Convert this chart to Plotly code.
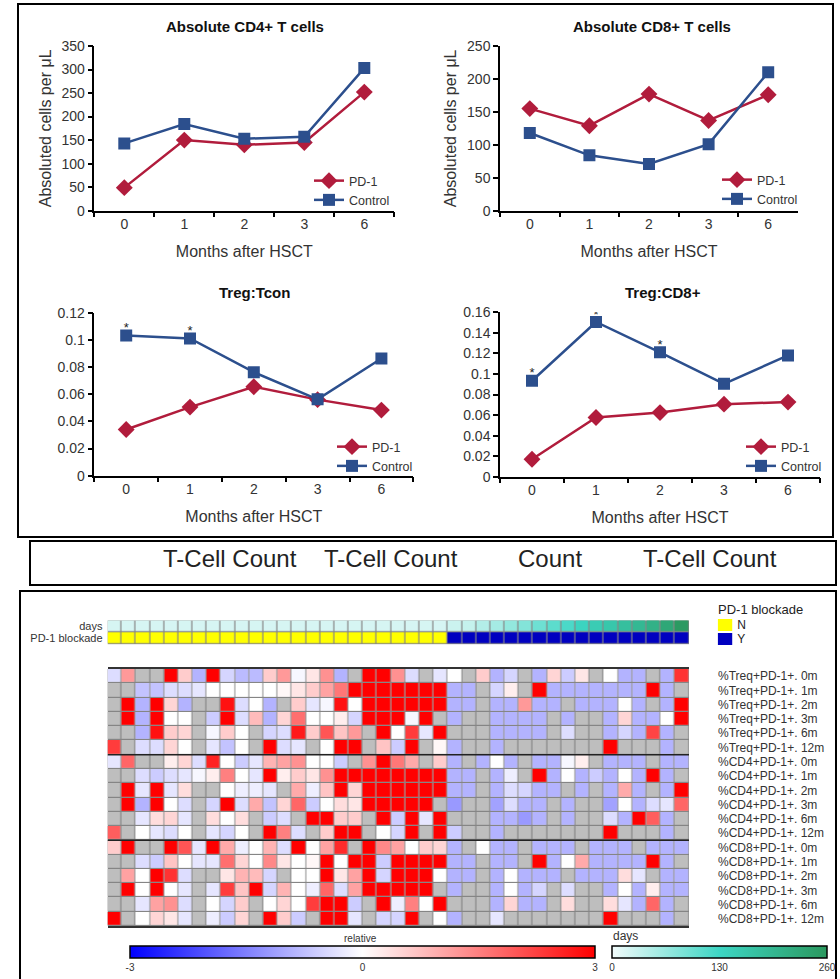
import plotly.graph_objects as go

W, H = 840, 979
def fx(x): return x / W
def fy(y): return 1 - y / H

FONT = 'Liberation Sans, Arial, sans-serif'
NARROW = 'Liberation Sans Narrow, Arial Narrow, Liberation Sans, sans-serif'

# ---------------- line-chart data ----------------
months = ['0', '1', '2', '3', '6']
cd4_pd1 = [49, 150, 140, 145, 252]
cd4_ctrl = [143, 184, 153, 157, 303]
cd8_pd1 = [155, 129, 177, 137, 176]
cd8_ctrl = [118, 84, 71, 101, 210]
tregtcon_pd1 = [0.034, 0.0505, 0.0655, 0.056, 0.0483]
tregtcon_ctrl = [0.1032, 0.101, 0.0762, 0.0562, 0.0863]
tregcd8_pd1 = [0.017, 0.0576, 0.0624, 0.0706, 0.0726]
tregcd8_ctrl = [0.0934, 0.1506, 0.121, 0.0904, 0.118]
tregtcon_sig = [True, True, False, False, False]
tregcd8_sig = [True, True, True, False, False]

# ---------------- heatmap data ----------------
row_labels = ['%Treq+PD-1+. 0m', '%Treq+PD-1+. 1m', '%Treq+PD-1+. 2m', '%Treq+PD-1+. 3m',
              '%Treq+PD-1+. 6m', '%Treq+PD-1+. 12m',
              '%CD4+PD-1+. 0m', '%CD4+PD-1+. 1m', '%CD4+PD-1+. 2m', '%CD4+PD-1+. 3m',
              '%CD4+PD-1+. 6m', '%CD4+PD-1+. 12m',
              '%CD8+PD-1+. 0m', '%CD8+PD-1+. 1m', '%CD8+PD-1+. 2m', '%CD8+PD-1+. 3m',
              '%CD8+PD-1+. 6m', '%CD8+PD-1+. 12m']
N = None
relative = [
    [-0.4, 1.2, N, N, 3, 0.6, -0.9, 3, -0.5, -0.8, -0.8, 0.6, 1.2, -0.1, 0.3, 1.3, -0.9, N, 3, 3, 1.3, -0.4, N, -0.3,
     0, N, 0.6, -0.9, -0.5, N, -0.9, 0.5, -0.6, 0.3, N, 0, -0.9, -0.9, N, -0.9, 2.4],
    [N, N, -0.7, -0.7, -0.4, -0.4, -0.3, 0, 0, 0, 0, 0, 0.1, 0.3, 0.6, 1.1, 1.6, 3, 3, 3, 3, 3, 3, 3,
     -0.9, -0.9, N, -0.5, 0.2, N, 3, -0.9, -0.9, -0.9, -0.9, -0.9, -0.9, -0.9, 3, -0.9, N],
    [N, 3, -0.9, 3, 0.5, -0.9, N, N, 2.8, -0.4, 0, -0.9, N, 0.6, -0.3, -0.1, 2.8, 0, 3, 3, 3, 3, 3, 3,
     -0.9, -0.9, N, -0.9, -0.9, 1.2, -0.9, -0.9, N, -0.9, -0.9, -0.9, 0, -0.9, N, -0.9, 3],
    [N, 3, -0.9, 3, 0, 0, N, -0.6, 3, -0.4, 0.8, -0.9, 0.5, 1.7, 0, 0, 0.2, -0.5, 3, 3, 3, -0.1, 3, N,
     -0.9, N, N, -0.9, -0.9, -0.9, -0.9, N, -0.9, N, N, -0.9, 0.5, -0.9, -0.9, 0, 3],
    [N, N, -0.9, 2.8, 0.6, 0.5, N, -0.1, 0.6, 0, N, -0.5, -0.4, 2.7, 0.6, 2.0, 0.7, 1.2, N, 3, 0, 2.3, -0.3, 3,
     N, N, N, -0.9, -0.9, -0.9, -0.9, N, -0.4, N, N, -0.9, -0.5, -0.9, 2.2, -0.9, N],
    [2.3, N, -0.4, -0.4, 0.5, 0, N, -0.3, -0.7, 0, N, 3, -0.4, -0.3, N, 0, 3, 3, N, 0.7, -0.6, 3, N, 0.1,
     -0.9, N, N, -0.9, N, N, N, N, N, N, N, 3, N, N, N, -0.9, N],
    [-0.3, 1.8, N, N, 0.2, 0.5, -0.4, 2.6, 0, -0.6, -0.3, 0.9, 1.1, 1.3, 0, 0, -0.6, N, 1.3, 3, 1.6, 1.0, N, 0.6,
     -0.9, N, -0.9, 0, -0.9, N, -0.9, -0.9, -0.1, 0.2, N, -0.9, -0.9, -0.9, N, -0.9, -0.9],
    [N, N, -0.4, -0.6, -0.4, -0.3, -0.1, 0.2, 1.5, 0, -0.3, 3, 0.2, 0.6, 0.3, 1.3, 3, 3, 3, 3, 3, 3, 3, 3,
     -0.9, -0.9, N, -0.9, -0.2, N, 3, -0.9, 0, -0.9, -0.6, -0.9, 0, -0.9, 3, -0.9, N],
    [N, 3, -0.3, 3, -0.3, 0.4, N, N, 0, -0.2, -0.2, -0.3, N, 1.0, -0.2, 0.7, 3, 0.5, 3, 3, 3, 3, 3, 3,
     -0.9, -0.9, N, -0.9, -0.4, -0.5, -0.9, -0.9, N, -0.9, N, -0.9, 1.0, -0.9, N, -0.9, 3],
    [N, 3, -0.9, 3, 0, -0.4, N, -0.5, 3, -0.4, 1.0, -0.7, 0.5, 1.8, -0.6, 0, 0.4, 0.3, 3, 3, 3, 3, 3, N,
     -1.2, N, N, -1.1, -0.4, -0.9, -0.9, N, -0.9, N, N, -1.1, 0, -0.9, -0.4, -0.3, 1.8],
    [N, N, -0.3, 0.4, 0.5, -0.3, N, 0.4, 0, 0.4, N, -0.6, -0.4, N, 3, 3, 0.6, 0.6, N, 3, -0.6, 3, -0.3, 3,
     N, N, N, -0.9, -0.9, -1.2, -0.9, N, -0.9, N, N, -0.4, -0.9, 3, 1.9, -0.9, N],
    [1.9, N, 0, -0.3, -0.4, 0, N, -0.3, -0.5, 0, N, 3, 1.5, -0.4, N, 0.6, 3, 3, N, 0, -0.5, 3, N, 3,
     -0.6, N, N, -0.9, N, N, N, N, N, N, N, 3, N, N, N, -0.9, N],
    [0.6, 3, N, N, 3, 2.0, -0.3, 3, 1.0, -0.2, 0, 0.9, -0.4, 3, 0, 1.1, 2.5, N, 3, 1.4, 1.1, 0, 0.6, 0.5,
     -0.9, N, 0, -0.9, -0.9, N, -0.9, -0.9, -0.9, N, -0.9, -0.9, -0.9, N, -0.9, -0.9, -0.9],
    [N, N, -0.4, -0.6, 0.7, 0, -0.3, -0.3, 1.7, 0.5, 0, 1.4, 0.3, 0, 0.1, 3, 0, 3, 3, -0.6, 3, 3, 3, 3,
     -0.9, -0.9, N, -0.9, -0.9, N, 3, -0.9, 0, 1.0, -0.9, -0.9, -0.9, -0.9, 3, -0.9, N],
    [N, 1.1, 0, 3, 2.4, -0.4, N, N, 0.3, 0.9, 0.8, -0.5, N, 0, 0, 3, 0.3, 1.1, 3, -0.5, 3, 3, 3, 0,
     -0.9, -0.9, N, -0.9, 0, -0.9, -0.9, -0.9, N, -0.9, -0.9, -0.9, 0.4, -0.3, N, -0.9, -0.9],
    [N, 3, 0, 3, 0, -0.3, N, -0.3, 2.3, 0.7, 3, -0.5, 0.9, 0, -0.2, 1.8, -0.4, 1.1, 3, 3, 3, 3, 3, N,
     -0.9, N, N, -0.9, 0, -0.9, -0.5, N, -0.4, N, N, -0.9, 0, -0.9, 0.2, -0.9, -0.9],
    [N, N, -0.3, 1.1, 1.3, -0.4, N, 0, -0.5, 0.6, N, 0, 0.5, 0, 2.3, 3, 3, -0.6, N, 3, -0.2, 1.5, 0, 3,
     N, N, N, -0.9, 0.5, -0.9, -0.9, N, 0.4, N, N, 0.4, -0.3, -0.9, 1.8, -0.9, N],
    [3, N, 0, 0.5, 0.3, -0.3, N, -0.2, -0.6, 0.5, N, 3, 0.6, -0.6, N, 3, 3, -0.3, N, -0.5, -0.5, 3, N, 0,
     -0.9, N, N, -0.3, N, N, N, N, N, N, N, 3, N, N, N, -0.9, N],
]
days = [20, 20, 20, 20, 20, 20, 20, 20, 20, 20, 20, 20, 20, 20, 20, 20, 20, 20, 20, 20, 20, 20, 20, 20,
        28, 32, 45, 55, 68, 80, 95, 108, 120, 135, 150, 162, 178, 192, 208, 228, 255]
blockade = ['N', 'N', 'N', 'N', 'N', 'N', 'N', 'N', 'N', 'N', 'N', 'N', 'N', 'N', 'N', 'N', 'N', 'N',
            'N', 'N', 'N', 'N', 'N', 'N', 'Y', 'Y', 'Y', 'Y', 'Y', 'Y', 'Y', 'Y', 'Y', 'Y', 'Y', 'Y',
            'Y', 'Y', 'Y', 'Y', 'Y']
blockade_levels = ['N', 'Y']
count_labels = ['T-Cell Count', 'T-Cell Count', 'Count', 'T-Cell Count']

RED = '#b11c3c'
BLUE = '#2c4f8d'
YEL = '#ffff00'
DBLUE = '#0000c0'

panels = [
    dict(title='Absolute CD4+ T cells', pd1=cd4_pd1, ctrl=cd4_ctrl, sig=None, yr=350, dt=50,
         ytitle='Absoluted cells per μL', xd=(94.3, 394.3), yd=(46, 210.7), t=(245, 27), leg=(309, 166)),
    dict(title='Absolute CD8+ T cells', pd1=cd8_pd1, ctrl=cd8_ctrl, sig=None, yr=250, dt=50,
         ytitle='Absoluted cells per μL', xd=(500, 798), yd=(46, 210.7), t=(652, 27), leg=(717, 165)),
    dict(title='Treg:Tcon', pd1=tregtcon_pd1, ctrl=tregtcon_ctrl, sig=tregtcon_sig, yr=0.12, dt=0.02,
         ytitle=None, xd=(94.3, 413.3), yd=(312.7, 475.7), t=(255, 292), leg=(332, 432)),
    dict(title='Treg:CD8+', pd1=tregcd8_pd1, ctrl=tregcd8_ctrl, sig=tregcd8_sig, yr=0.16, dt=0.02,
         ytitle=None, xd=(500, 820), yd=(312.3, 476.7), t=(663, 292), leg=(741, 432)),
]

fig = go.Figure()
layout = dict(width=W, height=H, margin=dict(l=0, r=0, t=0, b=0), paper_bgcolor='white',
              plot_bgcolor='white', font=dict(family=FONT, color='#222'), showlegend=True)
annotations = []
shapes = []

for i, p in enumerate(panels):
    n = '' if i == 0 else str(i + 1)
    xa, ya = 'x' + n, 'y' + n
    leg = 'legend' + n
    fig.add_trace(go.Scatter(x=months, y=p['pd1'], name='PD-1', mode='lines+markers',
                             line=dict(color=RED, width=2.5),
                             marker=dict(symbol='diamond', size=13, color=RED),
                             xaxis=xa, yaxis=ya, legend=leg, hoverinfo='skip'))
    fig.add_trace(go.Scatter(x=months, y=p['ctrl'], name='Control', mode='lines+markers',
                             line=dict(color=BLUE, width=2.5),
                             marker=dict(symbol='square', size=12, color=BLUE),
                             xaxis=xa, yaxis=ya, legend=leg, hoverinfo='skip'))
    if p['sig']:
        sx = [m for m, s in zip(months, p['sig']) if s]
        sy = [v for v, s in zip(p['ctrl'], p['sig']) if s]
        fig.add_trace(go.Scatter(x=sx, y=sy, mode='text', text=['*'] * len(sx),
                                 textposition='top center', textfont=dict(size=13, color='#222'),
                                 xaxis=xa, yaxis=ya, showlegend=False, hoverinfo='skip'))
    layout['xaxis' + n] = dict(domain=[fx(p['xd'][0]), fx(p['xd'][1])], anchor=ya, type='category',
                               categoryorder='array', categoryarray=months, range=[-0.5, 4.5],
                               showline=True, linecolor='black', linewidth=1.5, ticks='outside',
                               tickson='boundaries', ticklen=5, tickwidth=1.5, tickcolor='black',
                               showgrid=False, zeroline=False, automargin=False,
                               tickfont=dict(size=14, color='#333'),
                               title=dict(text='Months after HSCT', font=dict(size=16, color='#333', family=NARROW),
                                          standoff=15))
    layout['yaxis' + n] = dict(domain=[fy(p['yd'][1]), fy(p['yd'][0])], anchor=xa, range=[0, p['yr']],
                               dtick=p['dt'], showline=True, linecolor='black', linewidth=1.5,
                               ticks='outside', ticklen=5, tickwidth=1.5, tickcolor='black',
                               showgrid=False, zeroline=False, automargin=False,
                               tickfont=dict(size=14, color='#333'))
    if p['ytitle']:
        layout['yaxis' + n]['title'] = dict(text=p['ytitle'], font=dict(size=16, color='#333', family=NARROW),
                                            standoff=6)
    layout[leg] = dict(x=fx(p['leg'][0]), y=fy(p['leg'][1]), xanchor='left', yanchor='top',
                       bgcolor='rgba(0,0,0,0)', font=dict(size=12.5, color='#333'), itemwidth=30,
                       tracegroupgap=0)
    annotations.append(dict(text='<b>' + p['title'] + '</b>', x=fx(p['t'][0]), y=fy(p['t'][1]),
                            xref='paper', yref='paper', showarrow=False, font=dict(size=15, color='#111'),
                            xanchor='center', yanchor='middle'))

# ---------------- heatmap ----------------
ncol = len(days)
cols = list(range(ncol))
zero_grid = [[0 for _ in cols] for _ in row_labels]
BORDER = '#858585'
NAGREY = '#bebebe'
HX0, HX1 = 107.5, 689
HY0, HY1 = 669, 926

fig.add_trace(go.Heatmap(z=zero_grid, x=cols, y=row_labels, colorscale=[[0, BORDER], [1, BORDER]],
                         showscale=False, xaxis='x5', yaxis='y5', hoverinfo='skip'))
fig.add_trace(go.Heatmap(z=zero_grid, x=cols, y=row_labels, colorscale=[[0, NAGREY], [1, NAGREY]],
                         showscale=False, xgap=1.2, ygap=1.2, xaxis='x5', yaxis='y5', hoverinfo='skip'))
fig.add_trace(go.Heatmap(z=relative, x=cols, y=row_labels, zmin=-3, zmax=3,
                         colorscale=[[0, '#0000ff'], [0.5, '#ffffff'], [1, '#ff0000']],
                         xgap=1.2, ygap=1.2, xaxis='x5', yaxis='y5', hoverinfo='skip',
                         colorbar=dict(orientation='h', x=fx((130 + 595) / 2), xanchor='center',
                                       y=fy(946), yanchor='top', lenmode='pixels', len=595 - 130,
                                       thickness=12, xpad=0, ypad=0, outlinecolor='black', outlinewidth=1.5,
                                       tickvals=[-3, 0, 3], ticktext=['-3', '0', '3'], ticks='',
                                       tickfont=dict(size=10, color='#333'))))

layout['xaxis5'] = dict(domain=[fx(HX0), fx(HX1)], anchor='y5', range=[-0.5, ncol - 0.5],
                        showticklabels=False, ticks='', showgrid=False, zeroline=False,
                        showline=True, mirror=True, linecolor='#333', linewidth=1.5, automargin=False)
layout['yaxis5'] = dict(domain=[fy(HY1), fy(HY0)], anchor='x5', type='category', range=[len(row_labels) - 0.5, -0.5],
                        tickmode='array', tickvals=row_labels, ticktext=row_labels,
                        side='right', ticks='', showgrid=False, zeroline=False, showline=False,
                        tickfont=dict(size=12, color='#333'), ticklabelstandoff=28, automargin=False)
for b in (5.5, 11.5):
    shapes.append(dict(type='line', xref='x5', yref='y5', x0=-0.5, x1=ncol - 0.5, y0=b, y1=b,
                       line=dict(color='#222', width=1.5), layer='above'))

# annotation rows (days, PD-1 blockade)
ann_rows = ['days', 'PD-1 blockade']
blockade_code = [blockade_levels.index(b) for b in blockade]
fig.add_trace(go.Heatmap(z=[[0 for _ in cols], [0 for _ in cols]], x=cols, y=ann_rows,
                         colorscale=[[0, BORDER], [1, BORDER]], showscale=False,
                         xaxis='x6', yaxis='y6', hoverinfo='skip'))
fig.add_trace(go.Heatmap(z=[days, [None for _ in cols]], x=cols, y=ann_rows, zmin=0, zmax=260,
                         colorscale=[[0, '#f2fbfb'], [0.5, '#3dd6c4'], [1, '#2a985e']],
                         xgap=1.2, ygap=1.2, xaxis='x6', yaxis='y6', hoverinfo='skip',
                         colorbar=dict(orientation='h', x=fx((612 + 827) / 2), xanchor='center',
                                       y=fy(946), yanchor='top', lenmode='pixels', len=827 - 612,
                                       thickness=12, xpad=0, ypad=0, outlinecolor='black', outlinewidth=1.5,
                                       tickvals=[0, 130, 260], ticks='',
                                       tickfont=dict(size=10, color='#333'))))
fig.add_trace(go.Heatmap(z=[[None for _ in cols], blockade_code], x=cols, y=ann_rows, zmin=0, zmax=1,
                         colorscale=[[0, YEL], [0.5, YEL], [0.5, DBLUE], [1, DBLUE]], showscale=False,
                         xgap=1.2, ygap=1.2, xaxis='x6', yaxis='y6', hoverinfo='skip'))
layout['xaxis6'] = dict(domain=[fx(HX0), fx(HX1)], anchor='y6', range=[-0.5, ncol - 0.5],
                        visible=False, automargin=False)
layout['yaxis6'] = dict(domain=[fy(644.5), fy(620.3)], anchor='x6', type='category', range=[1.5, -0.5],
                        tickmode='array', tickvals=ann_rows, ticktext=ann_rows,
                        ticks='', showgrid=False, zeroline=False, showline=False,
                        tickfont=dict(size=11, color='#333'), ticklabelstandoff=4, automargin=False)

# PD-1 blockade key
fig.add_trace(go.Heatmap(z=[[0], [1]], x=[0], y=blockade_levels, zmin=0, zmax=1,
                         colorscale=[[0, YEL], [0.5, YEL], [0.5, DBLUE], [1, DBLUE]], showscale=False,
                         ygap=2, xaxis='x7', yaxis='y7', hoverinfo='skip'))
layout['xaxis7'] = dict(domain=[fx(717.7), fx(732.3)], anchor='y7', range=[-0.5, 0.5], visible=False,
                        automargin=False)
layout['yaxis7'] = dict(domain=[fy(646), fy(618)], anchor='x7', type='category', range=[1.5, -0.5],
                        tickmode='array', tickvals=blockade_levels, ticktext=blockade_levels,
                        side='right', ticks='', showgrid=False, zeroline=False, showline=False,
                        tickfont=dict(size=12, color='#222'), ticklabelstandoff=4, automargin=False)
annotations.append(dict(text='PD-1 blockade', x=fx(716), y=fy(609), xref='paper', yref='paper',
                        showarrow=False, xanchor='left', yanchor='middle', font=dict(size=13, color='#222')))
annotations.append(dict(text='relative', x=fx(360), y=fy(938), xref='paper', yref='paper',
                        showarrow=False, xanchor='center', yanchor='middle', font=dict(size=10, color='#333')))
annotations.append(dict(text='days', x=fx(611), y=fy(936), xref='paper', yref='paper',
                        showarrow=False, xanchor='left', yanchor='middle', font=dict(size=12, color='#333')))

# middle strip labels
for lbl, cx in zip(count_labels, [230, 391, 550, 710]):
    annotations.append(dict(text=lbl, x=fx(cx), y=fy(558), xref='paper', yref='paper', showarrow=False,
                            xanchor='center', yanchor='middle', font=dict(size=24, color='#222', family=NARROW)))

# frames
for (x0, y0, x1, y1) in [(18, 4, 833, 537), (30, 541, 836, 585), (20, 591, 836, 990)]:
    shapes.append(dict(type='rect', xref='paper', yref='paper', x0=fx(x0), x1=fx(x1), y0=fy(y1), y1=fy(y0),
                       line=dict(color='black', width=2), fillcolor='rgba(0,0,0,0)', layer='below'))

layout['annotations'] = annotations
layout['shapes'] = shapes
fig.update_layout(**layout)
fig.write_html('out.html')
